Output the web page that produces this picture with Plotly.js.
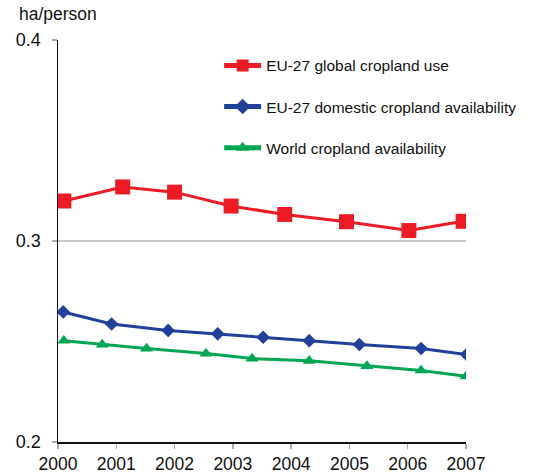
<!DOCTYPE html>
<html>
<head>
<meta charset="utf-8">
<script src="https://cdn.plot.ly/plotly-3.0.1.min.js"></script>
<style>html,body{margin:0;padding:0;background:#fff;}#chart{width:534px;height:475px;}</style>
</head>
<body>
<div id="chart"></div>
<script>
var tickYears = [2000, 2001, 2002, 2003, 2004, 2005, 2006, 2007];
var tickLabels = ["2000", "2001", "2002", "2003", "2004", "2005", "2006", "2007"];

var globalUseX = [2000.10, 2001.11, 2002.00, 2002.97, 2003.89, 2004.95, 2006.02, 2006.95];
var globalUseY = [0.3199, 0.3269, 0.3243, 0.3174, 0.3132, 0.3096, 0.3052, 0.3098];

var domesticX = [2000.09, 2000.92, 2001.89, 2002.74, 2003.52, 2004.31, 2005.17, 2006.23, 2007.01];
var domesticY = [0.2647, 0.2587, 0.2555, 0.2538, 0.2521, 0.2504, 0.2485, 0.2465, 0.2435];

var worldX = [2000.10, 2000.76, 2001.52, 2002.54, 2003.33, 2004.31, 2005.30, 2006.23, 2007.00];
var worldY = [0.2504, 0.2485, 0.2465, 0.2440, 0.2415, 0.2404, 0.2378, 0.2356, 0.2327];

var names = ["EU-27 global cropland use", "EU-27 domestic cropland availability", "World cropland availability"];

var traces = [
  {x: globalUseX, y: globalUseY, name: names[0], mode: "lines+markers", legendgroup: "a",
   line: {color: "#ed1c24", width: 3}, marker: {symbol: "square", size: 15, color: "#ed1c24"}},
  {x: domesticX, y: domesticY, name: names[1], mode: "lines+markers", legendgroup: "b",
   line: {color: "#21409a", width: 3}, marker: {symbol: "diamond", size: 10.5, color: "#21409a"}},
  {x: worldX, y: worldY, name: names[2], mode: "lines+markers", legendgroup: "c",
   line: {color: "#00a651", width: 3}, marker: {symbol: "triangle-up", size: 11.5, color: "#00a651"}}
];

var layout = {
  width: 534, height: 475,
  margin: {l: 58, r: 60, t: 40, b: 33},
  paper_bgcolor: "#fff", plot_bgcolor: "#fff",
  font: {family: "Liberation Sans, Arial, sans-serif", color: "#111"},
  showlegend: true,
  legend: {x: 0.395, y: 0.978, xanchor: "left", yanchor: "top", bgcolor: "rgba(0,0,0,0)",
           font: {size: 15.5, color: "#111"}, traceorder: "grouped", tracegroupgap: 18,
           itemsizing: "constant", itemwidth: 37},
  xaxis: {range: [2000, 2007], tickvals: tickYears, ticktext: tickLabels,
          showgrid: false, zeroline: false, showline: true, linecolor: "#111", linewidth: 1.5,
          ticks: "outside", ticklen: 5, tickcolor: "#aaa", tickwidth: 1.5, ticklabelstandoff: 0,
          tickfont: {size: 17.5, color: "#111"}},
  yaxis: {range: [0.2, 0.4], tickvals: [0.2, 0.3, 0.4], ticktext: ["0.2", "0.3", "0.4"],
          showgrid: true, gridcolor: "#c8c8c8", gridwidth: 1.5, zeroline: false,
          showline: true, linecolor: "#111", linewidth: 1.5,
          ticks: "outside", ticklen: 5, tickcolor: "#aaa", tickwidth: 1.5, ticklabelstandoff: 7,
          tickfont: {size: 18, color: "#111"}},
  annotations: [{text: "ha/person", xref: "paper", yref: "paper", x: -0.101, y: 1.035,
                 xanchor: "left", yanchor: "bottom", showarrow: false,
                 font: {size: 17.5, color: "#111"}}]
};

Plotly.newPlot("chart", traces, layout, {displayModeBar: false, staticPlot: true});
</script>
</body>
</html>
